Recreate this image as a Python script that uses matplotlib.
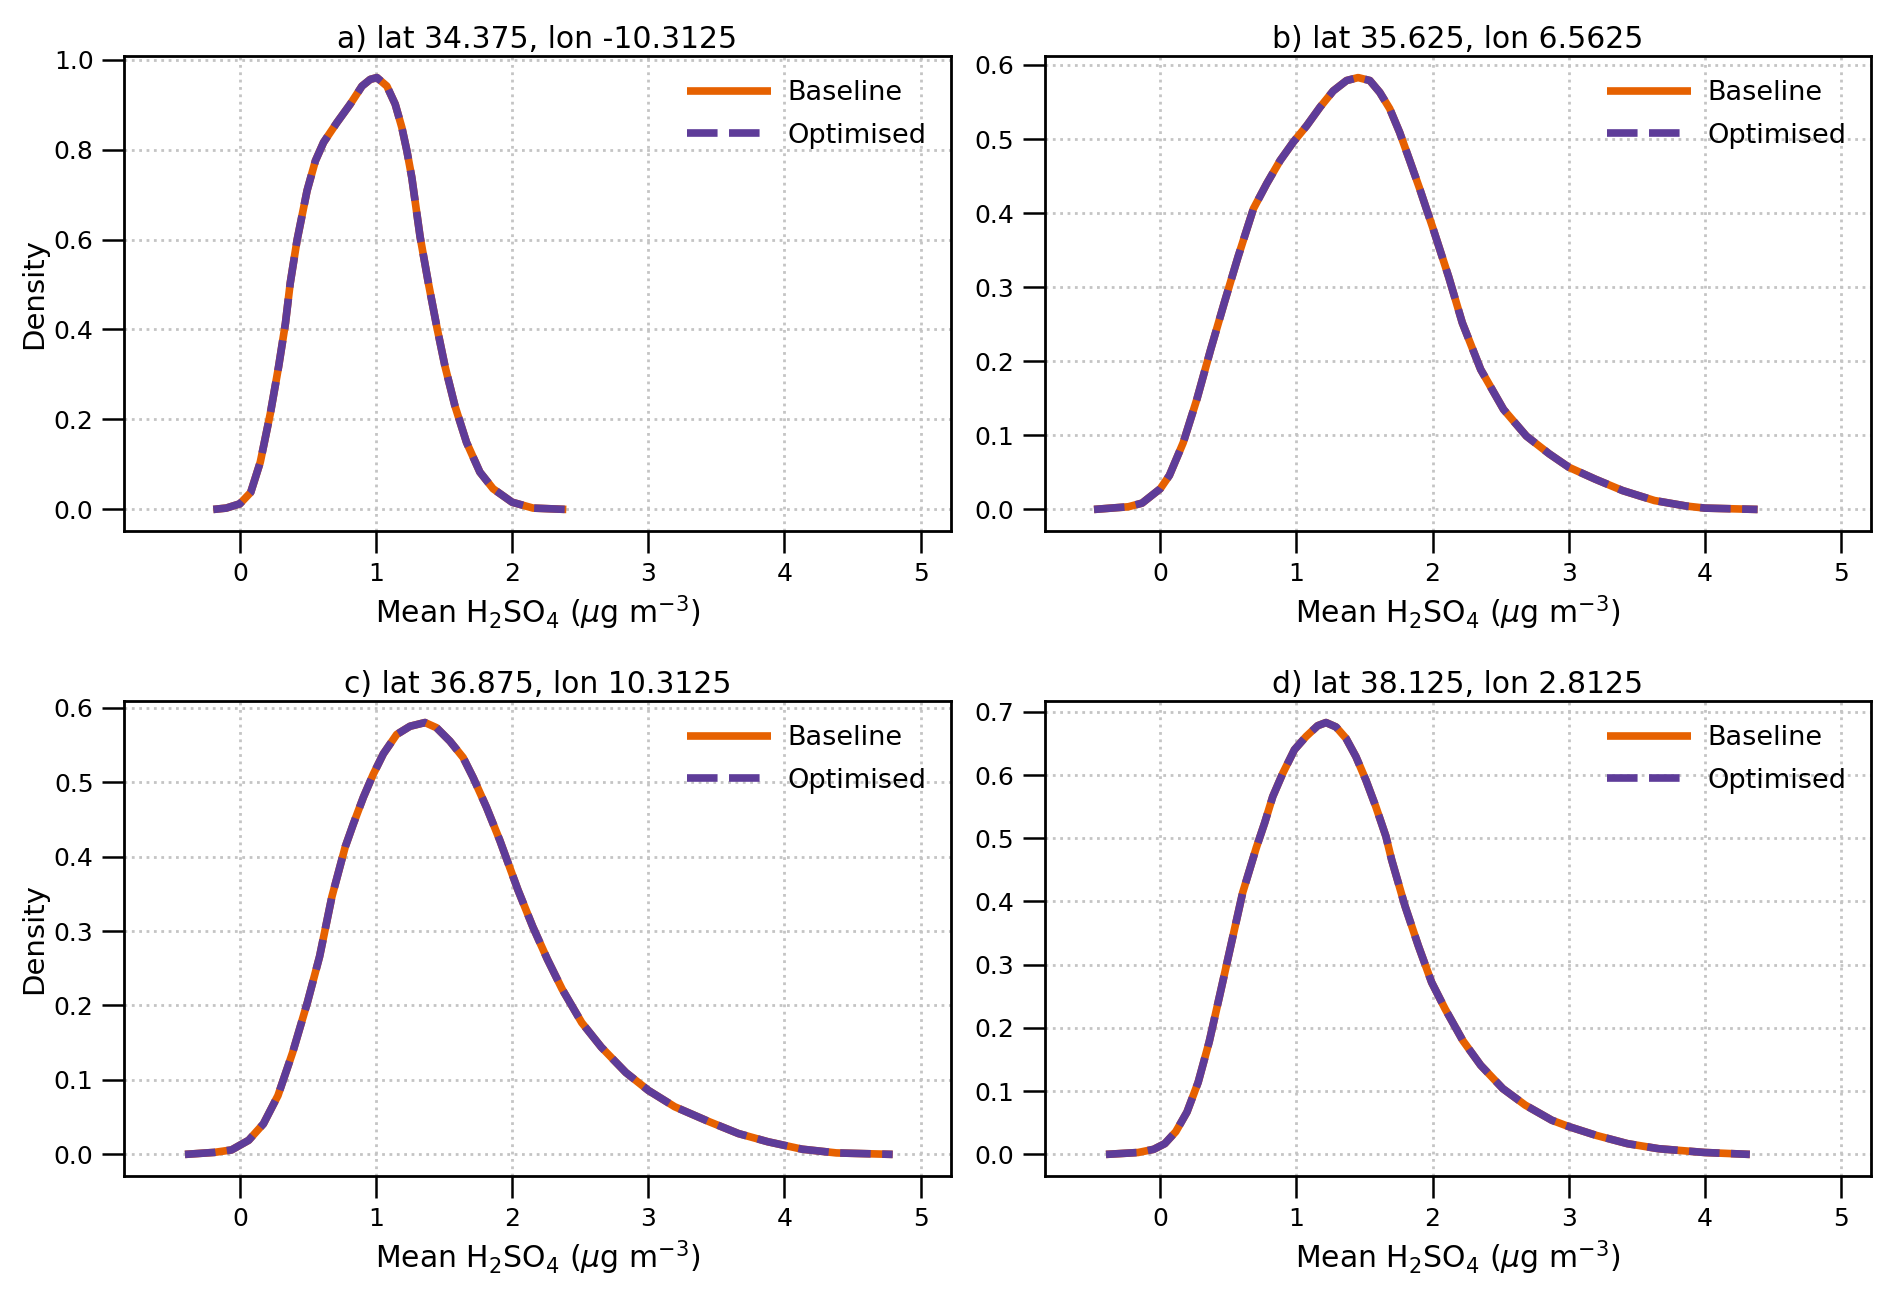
import matplotlib
matplotlib.use('Agg')
import matplotlib.pyplot as plt

# values (x in ug m-3, y density); baseline and optimised overlap
a_x = [-0.195, -0.1, 0.0, 0.08, 0.15, 0.225, 0.285, 0.335, 0.37, 0.42, 0.494, 0.555, 0.615, 0.713,
       0.811, 0.897, 0.958, 1.007, 1.08, 1.141, 1.19, 1.227, 1.263, 1.324, 1.385, 1.446, 1.507, 1.58,
       1.665, 1.763, 1.86, 2.0, 2.154, 2.398]
a_y = [0.0, 0.003, 0.0125, 0.038, 0.105, 0.215, 0.318, 0.414, 0.503, 0.598, 0.709, 0.775, 0.816, 0.86,
       0.901, 0.941, 0.956, 0.96, 0.941, 0.901, 0.849, 0.797, 0.738, 0.606, 0.503, 0.407, 0.318, 0.23,
       0.149, 0.083, 0.046, 0.016, 0.003, 0.0]

b_x = [-0.487, -0.235, -0.134, 0.0, 0.067, 0.168, 0.269, 0.37, 0.47, 0.571, 0.684, 0.782, 0.88, 0.977,
       1.075, 1.173, 1.27, 1.368, 1.453, 1.539, 1.612, 1.685, 1.758, 1.832, 1.905, 1.954, 2.0, 2.118,
       2.218, 2.353, 2.521, 2.689, 2.857, 3.0, 3.193, 3.395, 3.63, 3.866, 4.0, 4.387]
b_y = [0.0, 0.0036, 0.0085, 0.028, 0.046, 0.09, 0.149, 0.216, 0.279, 0.341, 0.406, 0.44, 0.471, 0.496,
       0.518, 0.543, 0.565, 0.579, 0.583, 0.579, 0.563, 0.541, 0.509, 0.471, 0.433, 0.406, 0.381, 0.314,
       0.252, 0.189, 0.135, 0.099, 0.075, 0.057, 0.041, 0.0255, 0.012, 0.0045, 0.0018, 0.0]

c_x = [-0.403, -0.187, -0.061, 0.065, 0.173, 0.28, 0.388, 0.496, 0.586, 0.676, 0.774, 0.834, 0.908,
       0.981, 1.054, 1.152, 1.25, 1.36, 1.445, 1.543, 1.64, 1.714, 1.812, 1.909, 2.043, 2.151, 2.259,
       2.367, 2.511, 2.655, 2.835, 3.0, 3.194, 3.446, 3.662, 3.878, 4.129, 4.381, 4.795]
c_y = [0.0, 0.0027, 0.006, 0.019, 0.041, 0.079, 0.137, 0.204, 0.266, 0.346, 0.413, 0.444, 0.48,
       0.511, 0.538, 0.564, 0.575, 0.58, 0.573, 0.555, 0.533, 0.506, 0.466, 0.422, 0.355, 0.306, 0.262,
       0.222, 0.177, 0.144, 0.11, 0.086, 0.064, 0.044, 0.028, 0.017, 0.007, 0.002, 0.0]

d_x = [-0.399, -0.163, -0.049, 0.033, 0.114, 0.196, 0.278, 0.359, 0.441, 0.523, 0.605, 0.705, 0.766,
       0.826, 0.9, 0.985, 1.071, 1.156, 1.217, 1.291, 1.364, 1.437, 1.51, 1.583, 1.657, 1.699, 1.797,
       1.895, 1.993, 2.092, 2.222, 2.353, 2.516, 2.68, 2.876, 3.0, 3.203, 3.431, 3.66, 4.0, 4.33]
d_y = [0.0, 0.003, 0.008, 0.017, 0.036, 0.067, 0.114, 0.178, 0.256, 0.335, 0.414, 0.485, 0.524,
       0.566, 0.603, 0.64, 0.661, 0.678, 0.683, 0.676, 0.658, 0.629, 0.592, 0.55, 0.503, 0.466, 0.393,
       0.33, 0.272, 0.23, 0.18, 0.141, 0.104, 0.078, 0.054, 0.044, 0.03, 0.017, 0.009, 0.003, 0.0]

titles = ['a) lat 34.375, lon -10.3125', 'b) lat 35.625, lon 6.5625',
          'c) lat 36.875, lon 10.3125', 'd) lat 38.125, lon 2.8125']
curves = [(a_x, a_y), (b_x, b_y), (c_x, c_y), (d_x, d_y)]

orange = '#e66101'
purple = '#5e3c99'

fig, axes = plt.subplots(2, 2, figsize=(18.92, 12.96), dpi=100)
fig.subplots_adjust(left=0.0656, right=0.9889, top=0.9568, bottom=0.0926, wspace=0.1138, hspace=0.3577)

for i, ax in enumerate(axes.flat):
    xs, ys = curves[i]
    ax.plot(xs, ys, color=orange, lw=5.5, label='Baseline', solid_capstyle='butt', solid_joinstyle='round')
    ax.plot(xs, ys, color=purple, lw=5.5, dashes=(4, 1.5), label='Optimised',
            dash_capstyle='butt', dash_joinstyle='round')
    ax.set_xlim(-0.85, 5.22)
    ax.set_xticks([0, 1, 2, 3, 4, 5])
    ax.grid(True, linestyle=':', color='#c4c4c4', lw=2)
    ax.set_axisbelow(True)
    ax.set_title(titles[i], fontsize=21.5)
    ax.set_xlabel(r'Mean H$_2$SO$_4$ ($\mu$g m$^{-3}$)', fontsize=21.5, labelpad=6)
    if i % 2 == 0:
        ax.set_ylabel('Density', fontsize=21)
    ax.tick_params(axis='both', labelsize=18, length=16, width=1.8, pad=6)
    for s in ax.spines.values():
        s.set_linewidth(2)
    ax.legend(loc='upper right', frameon=False, fontsize=19.5, handlelength=3.1,
              handletextpad=0.6, labelspacing=0.6)

fig.savefig('out.png', dpi=100)
